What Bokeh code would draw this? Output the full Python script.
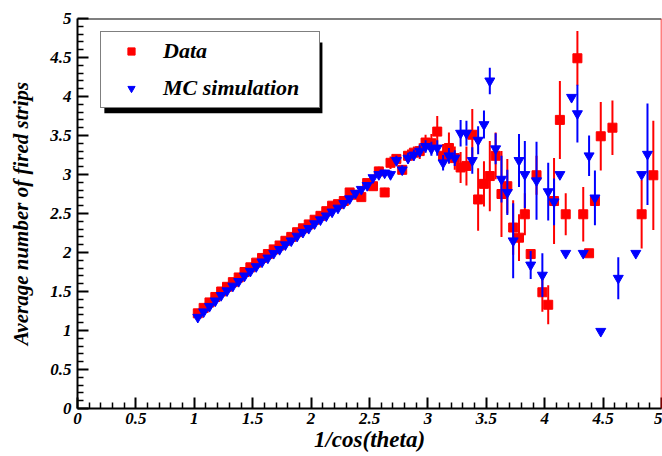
import numpy as np
from bokeh.plotting import figure
from bokeh.models import (Range1d, FixedTicker, Span, Legend, LegendItem,
                          BoxAnnotation, ColumnDataSource)
from bokeh.embed import file_html
from bokeh.resources import INLINE

# ---------------- data ----------------
data_x = [1.03, 1.08, 1.13, 1.18, 1.23, 1.28, 1.33, 1.38, 1.43, 1.48,
          1.53, 1.58, 1.63, 1.68, 1.73, 1.78, 1.83, 1.88, 1.93, 1.98,
          2.03, 2.08, 2.13, 2.18, 2.23, 2.28, 2.33, 2.38, 2.43, 2.48,
          2.53, 2.58, 2.63, 2.68, 2.73, 2.78, 2.83, 2.88, 2.93, 2.98,
          3.03, 3.08, 3.13, 3.18, 3.23, 3.28, 3.33, 3.38, 3.43, 3.48,
          3.53, 3.58, 3.63, 3.68, 3.73, 3.78, 3.83, 3.88, 3.93, 3.98,
          4.03, 4.08, 4.13, 4.18, 4.28, 4.33, 4.38, 4.43, 4.48, 4.58,
          4.83, 4.93]
data_y = [1.22, 1.29, 1.36, 1.43, 1.50, 1.56, 1.62, 1.68, 1.75, 1.81,
          1.87, 1.93, 1.98, 2.04, 2.09, 2.15, 2.20, 2.26, 2.31, 2.36,
          2.42, 2.47, 2.53, 2.60, 2.62, 2.66, 2.77, 2.74, 2.71, 2.89,
          2.85, 3.04, 2.77, 3.15, 3.20, 3.06, 3.24, 3.28, 3.30, 3.41,
          3.40, 3.55, 3.24, 3.34, 3.21, 3.09, 3.11, 3.51, 2.68, 2.88,
          2.98, 3.24, 2.75, 2.85, 2.32, 2.19, 2.49, 1.98, 2.99, 1.49,
          1.33, 2.66, 3.70, 2.49, 4.49, 2.49, 1.99, 2.66, 3.49, 3.60,
          2.49, 2.99]
data_err = [0.02, 0.02, 0.02, 0.02, 0.02, 0.02, 0.02, 0.02, 0.02, 0.02,
            0.02, 0.02, 0.02, 0.02, 0.02, 0.02, 0.02, 0.02, 0.02, 0.02,
            0.02, 0.02, 0.02, 0.02, 0.02, 0.02, 0.03, 0.03, 0.03, 0.03,
            0.03, 0.06, 0.06, 0.08, 0.05, 0.06, 0.08, 0.08, 0.10, 0.10,
            0.12, 0.20, 0.15, 0.20, 0.15, 0.20, 0.25, 0.33, 0.40, 0.29,
            0.45, 0.30, 0.55, 0.35, 0.35, 0.30, 0.27, 0.00, 0.25, 0.25,
            0.25, 0.55, 0.50, 0.27, 0.35, 0.35, 0.00, 0.00, 0.44, 0.35,
            0.44, 0.70]

mc_x = [1.03, 1.08, 1.13, 1.18, 1.23, 1.28, 1.33, 1.38, 1.43, 1.48,
        1.53, 1.58, 1.63, 1.68, 1.73, 1.78, 1.83, 1.88, 1.93, 1.98,
        2.03, 2.08, 2.13, 2.18, 2.23, 2.28, 2.33, 2.38, 2.43, 2.48,
        2.53, 2.58, 2.63, 2.68, 2.73, 2.78, 2.83, 2.88, 2.93, 2.98,
        3.03, 3.08, 3.13, 3.18, 3.23, 3.28, 3.33, 3.38, 3.43, 3.48,
        3.53, 3.58, 3.63, 3.68, 3.73, 3.78, 3.83, 3.88, 3.93, 3.98,
        4.03, 4.08, 4.13, 4.18, 4.23, 4.28, 4.33, 4.38, 4.43, 4.48,
        4.63, 4.78, 4.83, 4.88]
mc_y = [1.17, 1.24, 1.31, 1.38, 1.45, 1.51, 1.57, 1.63, 1.70, 1.76,
        1.82, 1.88, 1.93, 1.99, 2.04, 2.10, 2.15, 2.21, 2.26, 2.31,
        2.37, 2.42, 2.47, 2.52, 2.57, 2.63, 2.69, 2.76, 2.81, 2.86,
        2.96, 3.00, 3.02, 3.00, 3.18, 3.06, 3.21, 3.25, 3.30, 3.36,
        3.33, 3.34, 3.15, 3.24, 3.21, 3.53, 3.53, 3.18, 3.44, 3.64,
        4.20, 3.33, 2.94, 2.77, 2.15, 3.18, 3.00, 1.84, 2.92, 1.71,
        2.78, 2.65, 3.00, 1.99, 3.99, 3.78, 1.99, 3.24, 2.70, 0.99,
        1.67, 1.99, 3.00, 3.26]
mc_err = [0.02, 0.02, 0.02, 0.02, 0.02, 0.02, 0.02, 0.02, 0.02, 0.02,
          0.02, 0.02, 0.02, 0.02, 0.02, 0.02, 0.02, 0.02, 0.02, 0.02,
          0.02, 0.02, 0.02, 0.02, 0.02, 0.02, 0.02, 0.02, 0.02, 0.02,
          0.03, 0.03, 0.04, 0.05, 0.06, 0.06, 0.07, 0.07, 0.08, 0.08,
          0.09, 0.10, 0.10, 0.10, 0.10, 0.17, 0.16, 0.17, 0.18, 0.18,
          0.17, 0.20, 0.30, 0.29, 0.48, 0.34, 0.43, 0.18, 0.50, 0.28,
          0.37, 0.30, 0.00, 0.00, 0.00, 0.37, 0.00, 0.26, 0.35, 0.00,
          0.27, 0.00, 0.00, 0.65]

tick_values = [0, 0.5, 1, 1.5, 2, 2.5, 3, 3.5, 4, 4.5, 5]
x_tick_labels = ["0", "0.5", "1", "1.5", "2", "2.5", "3", "3.5", "4", "4.5", "5"]
y_tick_labels = ["0", "0.5", "1", "1.5", "2", "2.5", "3", "3.5", "4", "4.5", "5"]

x_title = "1/cos(theta)"
y_title = "Average number of fired strips"
legend_labels = ["Data", "MC simulation"]

# ---------------- styling ----------------
FONT = "Liberation Serif"
STYLE = "bold italic"
RED = "#ff0000"
BLUE = "#0000ff"

dsrc = ColumnDataSource(dict(x=data_x, y=data_y,
                             lo=list(np.array(data_y) - np.array(data_err)),
                             hi=list(np.array(data_y) + np.array(data_err))))
msrc = ColumnDataSource(dict(x=mc_x, y=mc_y,
                             lo=list(np.array(mc_y) - np.array(mc_err)),
                             hi=list(np.array(mc_y) + np.array(mc_err))))

p = figure(width=662, height=456, x_range=Range1d(0, 5), y_range=Range1d(0, 5),
           output_backend="svg", toolbar_location=None,
           min_border_left=77, min_border_right=1, min_border_top=18,
           min_border_bottom=48)
p.outline_line_color = None
p.grid.visible = False
p.background_fill_color = "white"
p.border_fill_color = "white"

minor = [i / 10 for i in range(51) if i % 5]
for ax, labels in ((p.xaxis[0], x_tick_labels), (p.yaxis[0], y_tick_labels)):
    ax.ticker = FixedTicker(ticks=tick_values, minor_ticks=minor)
    ax.major_label_overrides = {float(t): s for t, s in zip(tick_values, labels)}
    ax.axis_line_width = 2
    ax.axis_line_color = "black"
    ax.major_tick_in = 11
    ax.major_tick_out = 0
    ax.minor_tick_in = 6
    ax.minor_tick_out = 0
    ax.major_tick_line_width = 2
    ax.minor_tick_line_width = 1.5
    ax.major_label_text_font = FONT
    ax.major_label_text_font_style = STYLE
    ax.major_label_text_font_size = "17px"
    ax.major_label_text_color = "black"
    ax.major_label_standoff = 4
    ax.axis_label_text_font = FONT
    ax.axis_label_text_font_style = STYLE
    ax.axis_label_text_color = "black"
p.yaxis[0].major_label_standoff = 6

p.xaxis[0].axis_label = x_title
p.xaxis[0].axis_label_text_font_size = "23px"
p.xaxis[0].axis_label_standoff = 0
p.yaxis[0].axis_label = y_title
p.yaxis[0].axis_label_text_font_size = "21px"
p.yaxis[0].axis_label_standoff = 14

# frame top (black) and right (red) edges
p.add_layout(Span(location=5, dimension="width", line_color="black", line_width=2))
p.add_layout(Span(location=5, dimension="height", line_color=RED, line_width=1.5))

# error bars and markers
p.segment("x", "lo", "x", "hi", source=dsrc, line_color=RED, line_width=2)
r_data = p.scatter("x", "y", source=dsrc, marker="square", size=9,
                   fill_color=RED, line_color=RED)
p.segment("x", "lo", "x", "hi", source=msrc, line_color=BLUE, line_width=2)
r_mc = p.scatter("x", "y", source=msrc, marker="inverted_triangle", size=10,
                 fill_color=BLUE, line_color=BLUE)

# legend shadow + legend
p.add_layout(BoxAnnotation(left=0.23, right=2.097, top=4.693, bottom=3.785,
                           fill_color="black", fill_alpha=1.0, line_color=None))
legend = Legend(items=[LegendItem(label=legend_labels[0], renderers=[r_data]),
                       LegendItem(label=legend_labels[1], renderers=[r_mc])],
                location=(23, 300), padding=6, spacing=11, margin=0,
                glyph_width=48, glyph_height=18, label_height=24, label_width=150,
                label_standoff=8,
                label_text_font=FONT, label_text_font_style=STYLE,
                label_text_font_size="22px", label_text_color="black",
                border_line_color="black", border_line_width=1.5,
                background_fill_color="white", background_fill_alpha=1.0)
p.add_layout(legend, "center")

open("out.html", "w").write(file_html(p, INLINE))
